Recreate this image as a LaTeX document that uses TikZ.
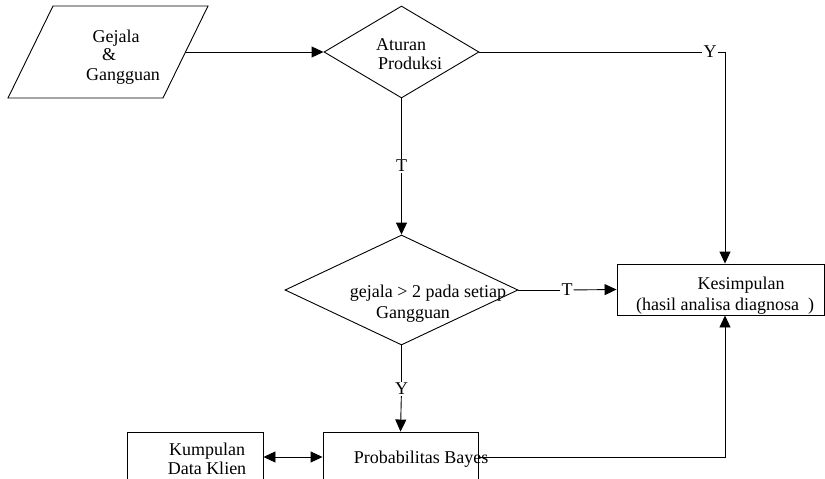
\documentclass[tikz,border=0pt]{standalone}
\usepackage{fontspec}
\setmainfont{Liberation Serif}
\usetikzlibrary{arrows.meta,shapes.geometric,calc}
\begin{document}
\begin{tikzpicture}[x=1pt,y=-1pt,
  every node/.style={font=\fontsize{18}{20}\selectfont},
  ln/.style={line width=0.9pt},
  arr/.style={ln,-{Triangle[length=12pt,width=11pt]}},
  darr/.style={ln,{Triangle[length=12pt,width=11pt]}-{Triangle[length=12pt,width=11pt]}},
  dia/.style={draw,ln,diamond,inner sep=0pt},
  boxr/.style={draw,ln,rectangle,inner sep=0pt},
  lbl/.style={fill=white,inner sep=1pt},
  txt/.style={inner sep=0pt,anchor=base}]
\clip (0,0) rectangle (825,479);
% input parallelogram
\draw[ln] (53,6) -- (208,6) -- (163,98) -- (8,98) -- cycle;
\coordinate (par) at (185.5,52);
\node[txt] (g1) at (116,42) {Gejala};
\node[txt] (g2) at (109,60) {\&};
\node[txt] (g3) at (123,80) {Gangguan};
% decisions
\node[dia,minimum width=155pt,minimum height=92pt] (d1) at (401.5,52) {};
\node[txt,anchor=base west] (a1) at (376,50) {Aturan};
\node[txt,anchor=base west] (a2) at (378,69) {Produksi};
\node[dia,minimum width=233pt,minimum height=110pt] (d2) at (401.5,290) {};
\node[txt] (b1) at (428,297) {gejala > 2 pada setiap};
\node[txt] (b2) at (413,318) {Gangguan};
% boxes
\node[boxr,minimum width=207pt,minimum height=51pt] (kes) at (720.5,289.5) {};
\node[txt] (k1) at (741,289) {Kesimpulan};
\node[txt] (k2) at (725,310) {(hasil analisa diagnosa\ \ )};
\node[boxr,minimum width=155pt,minimum height=50pt] (bay) at (400.5,457) {};
\node[txt] (p1) at (421,463) {Probabilitas Bayes};
\node[boxr,minimum width=136pt,minimum height=50pt] (kum) at (195,457) {};
\node[txt] (q1) at (207,455) {Kumpulan};
\node[txt] (q2) at (207,474) {Data Klien};
% labels
\node[lbl] (T1) at (401.5,166) {T};
\node[lbl] (Y1) at (710,52) {Y};
\node[lbl] (T2) at (567,290) {T};
\node[lbl] (Y2) at (401.5,389) {Y};
% connectors
\draw[arr] (par) -- (d1.west);
\draw[ln] (d1.south) -- (T1);
\draw[arr] (T1) -- (d2.north);
\draw[ln] (d1.east) -- (Y1);
\draw[arr] (Y1.east) -| ([xshift=4.5pt]kes.north);
\draw[ln] (d2.east) -- (T2);
\draw[arr] (T2) -- (kes.west);
\draw[ln] (d2.south) -- (Y2);
\draw[arr] (Y2) -- (bay.north);
\draw[darr] (kum.east) -- (bay.west);
\draw[arr] (bay.east) -| ([xshift=4.5pt]kes.south);
\end{tikzpicture}
\end{document}
